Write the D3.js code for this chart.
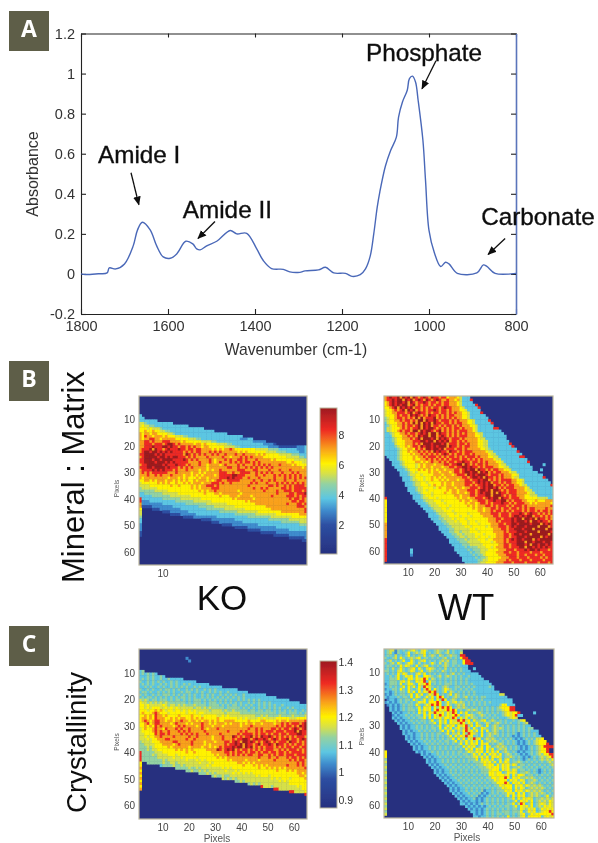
<!DOCTYPE html>
<html>
<head>
<meta charset="utf-8">
<script src="https://cdn.jsdelivr.net/npm/d3@7"></script>
<style>
  html, body { margin: 0; background: #fff; }
  text { font-family: "Liberation Sans", Arial, sans-serif; }
</style>
</head>
<body>
<svg id="chart" width="598" height="843"></svg>
<script>
// spectrum
const wavenumbers = [1800,1790,1760,1740,1735,1720,1700,1680,1670,1659,1641,1626,1611,1595,1580,1559,1543,1534,1526,1511,1488,1457,1442,1419,1396,1381,1362,1335,1320,1297,1285,1254,1238,1219,1192,1177,1158,1146,1135,1127,1119,1113,1100,1088,1075,1070,1061,1050,1045,1038,1031,1025,1014,1008,1000,988,973,962,954,935,890,875,867,848,800];
const absorbance = [0,-0.003,0.001,0.005,0.03,0.025,0.05,0.14,0.22,0.258,0.22,0.14,0.085,0.078,0.1,0.163,0.15,0.125,0.12,0.14,0.163,0.217,0.2,0.203,0.125,0.067,0.027,0.023,0.01,0.008,0.015,0.02,0.033,0.005,0.003,-0.012,-0.004,0.025,0.09,0.2,0.333,0.41,0.54,0.617,0.683,0.783,0.858,0.917,0.975,0.987,0.958,0.867,0.667,0.467,0.217,0.108,0.037,0.058,0.05,0.003,0.005,0.045,0.038,0.003,0.003];
const specXTicks = [1800,1600,1400,1200,1000,800];
const specYTicks = [-0.2,0,0.2,0.4,0.6,0.8,1,1.2];

// peak labels: text, label anchor, arrow start, arrow tip (wavenumber, absorbance)
const peakNames = ["Amide I","Amide II","Phosphate","Carbonate"];
const peakLabelAt = [[1761,0.556],[1566,0.281],[1145,1.064],[880,0.242]];
const peakArrowFrom = [[1685,0.505],[1492,0.262],[984,1.064],[825,0.177]];
const peakArrowTo = [[1667,0.346],[1531,0.177],[1016,0.924],[864,0.097]];

// maps: one char per pixel, colour level 0-9, trailing navy left out
const koMineral = ["","","","","","","",
"3",
"33",
"3333333",
"5543333333333",
"5655443333333333333",
"6665655543333333333333333",
"66766766554433333333333333333",
"7677677666655433333333333333333333",
"7687767776766655544333333333333333333333",
"76778877677777666665554433333333333333322233",
"7788787778887777676666665555443333333333333322222",
"77888788878998787777767767666655554433333333333322221",
"77888988899898878878787767766666655554433333333333222211111112223333",
"78889798878988898878878877776767677876666666655555444433333332223333",
"7899899898989888878787887778787877777767676666666555544443333322332333",
"88999989898888888798787878778787787778778777767676666655555444333333",
"78999998998989988878787777877777877677787878777766666666655555443333",
"88999899899998888987878777787677787877887877787777767666666655555444",
"88999989998989888887777877787678777878787887878777777777766766655555",
"78899999989888988878777877677776787777878777878787877787777676666655",
"88899899998988878787877777677777778877877878787878787777777777767666",
"78888989898887877787777677676778777777888777887777877787778777777767",
"78787888888777877777677676777778887787788887787878787778777878777777",
"77787787877787777677676767777678888899888777787787778787878787877777",
"76777777777677767676667677677778889898887787778777778777878787878777",
"66776767776776767676676777676788778888877777877877878777877787777877",
"56666667676766766767677767778887877877777778787778777878787878787878",
"55556666666676676666767677888787777777777787777777887877878788887878",
"45555556666666666666767677778887777777777777877878777778878788888878",
"44444455555666666666666767677877777777677777777787777877888788878788",
"33444444455555566666666667666776777777767777777777777877778878889887",
"33333444444455555555666666666667666777677776777777787777788878788788",
"83333333344444445555555566666666666676777777677777777777778788787888",
"82223333333333444444455555556666666666666767777777777777777887887878",
"72222222233333333344444444555555556666666666677777777777787778878788",
"71111222222223333333333444444555555556666666666667777777777778887888",
"60000111222222223333333333444444455555555666666666677777777777778788",
"50000000011122222223333333333334444444555555556666666667777777778788",
"50000000000011112222223333333333333334444444455555555666666666777788",
"40000000000000000111122222222233333333333344444444455555555666666666",
"30000000000000000000000011112222222223333333333333444444445555555666",
"30000000000000000000000000001112222222223333333333333334444444555555",
"20000000000000000000000000000000111122222222223333333333333333444444",
"20000000000000000000000000000000000001111122222222222333333333333344",
"20000000000000000000000000000000000000000011111222222222223333333333",
"10000000000000000000000000000000000000000000000111111222222222222233",
"10000000000000000000000000000000000000000000000000001111112222222222",
"00000000000000000000000000000000000000000000000000000000001111112222",
"00000000000000000000000000000000000000000000000000000000000000011111"];

const wtMineral = [
"789889798979878987988788677765333",
"7889899798978987987898778776753338",
"67898998979878898788787887776533330",
"678989899789787887878878877765333338",
"6678979898978878787887898877765333338",
"5667878979897878788987887877766533333",
"56677888789789887878878878787766533338",
"566678788798987879887878788777665333333",
"4566788787879797888978787878776653333333",
"45667787887879979889878887878777665333338",
"356667787879797989798878878788776653333338",
"3456677878878979897887878878787776653333330",
"35566678787889798998787878788787776533333388",
"355667878879979899878978787878887765333333333",
"3345667787887898979979887878787877765533333333",
"33356667787879899799789878787888777665333333333",
"33345667778789799989798987888787777765533333333",
"333456667778889989979898978878787777665533333333",
"3333566677787879998999897888788787776655333333338",
"33334566767887989989899979887878877766553333333338",
"333334566776878799899897888788787777766543333333333",
"3333345667677878787989887988787888777776553333333338",
"33333456667677878787878987878878878777776553333333333",
"033334566667677878887878788787878887877766553333333388",
"0033345666676677878787878788878878787877776553333333333",
"00033345666677676787787878878898878878787776653333333338",
"00033345666656767776777887889979878788787777655333333333000003",
"00003334566656767767776778878899898878788877665533333333300000",
"00000333456667676767677677788789899798878788776653333333300030",
"000000333456566667677677767887899899798978788777655333333330",
"0000003334556656666777677767888798989998788878777665333333333",
"00000003334566656676767677777788789989798878787776553333333338",
"000000033345566566766767677767788788989978787888877665333333333",
"0000000033345566566666767767777888789898978878788776653333333333",
"00000000333455666567667677677778878788989978878788776553333333338",
"000000000333455666656766777677677888789899897878887777653333333333",
"0000000003334556566666667677677788878998979987878887776553333333338",
"0000000000333456665666676677677678878989979798878887777655333333338",
"00000000000333456656666666677677788788899799987878877766555333333333",
"80000000000333455666566666667677677888789899798878887766666555533338",
"60000000000033345556665666666767767788878898899787888776667666777888",
"60000000000003334555666566666667677678878788898878788877676777776878",
"60000000000000333455566665666666767677788787888787888787777777778778",
"60000000000000033345556656666666667677677887878878878787887777877887",
"60000000000000003334555666566666666677677878878787888787887878878788",
"60000000000000000333455566656666566667777888788878889878988787878888",
"60000000000000000333345556666566656666777788788878998989978878787888",
"60000000000000000033344555656665666666667778878889899799897988787888",
"60000000000000000003334455565666566566667778788889899989799898878788",
"70000000000000000000333445555566566656666777887889989999899979898878",
"70000000000000000000033344555556656666656777888789899989999799978888",
"70000000000000000000033334455555566566666677788788999899979999799878",
"70000000000000000000003334455455566656666677778788899989999799998988",
"70000000000000000000000333445545555666566667778878998999799999979888",
"70000000000000000000000033344554555656665667778878899989999979899878",
"80000000000000000000000003334445455566656677778789899899979899999888",
"80000000000000000000000003333444555556666567778788899979989998998988",
"80000000000000000000000000333344455555666666778878899989799899898878",
"80000000000000000000000000033334344455566567778878889979989898988788",
"80000000003000000000000000033333434445556666777888788898998988878888",
"80000000003000000000000000003333343445566667778878878888788878888878",
"80000000002000000000000000000333334344566666777888878878887887888878",
"80000000000000000000000000000033333434456666677788878887888878788888",
"80000000000000000000000000000033333344556666777878887888788887888788",
"00000000000000000000000000000003333345566667778887888878888788878888"];

const koCryst = ["","","",
"0000000000000000002",
"00000000000000000002",
"","","",
"34",
"3434343",
"3334343343",
"34343433433433333",
"4334343434334343333333",
"343434334343434334343333333",
"33434334343343434343343433333333",
"43343433434434343343434334343433333333",
"344343343434343343443343433434343343333333",
"4343343434443434343434334343433434343433433333333",
"34344343434343434434343343434343434343434333333333333",
"5454344344434344343434443434343434343343434343433333333333",
"65545454545444444434344434344434343434343343434343433333333333",
"66565555565455454544454444344443434344343434334343434334333333333",
"665656665565656555555455454544444344444343434343434343433434333333",
"666566767656656656565655555455554544544444344344344343434343433434",
"676667876665666666566656655555555455555444444444444443444344434343",
"667676877676666766667666566666556565555555555445454444544445444454",
"677676877766767677667676766666766666665656555565655556666655566666",
"6787678877677677877677676776767667777666667666677666676776777777888",
"6678678877776787776767778776767776767776767767767777677878788878988",
"6676768787777678787777678777677767777776777877777777787878878798989",
"5676678776877787877877778767778777777777778778787778878788789878998",
"5666678787787778787877777877777777877778787778787888788878889798898",
"5566668788787777878787877787777877777787888878788787887887888998878",
"5565667787777877777877877777677787779878788978798898787878787888788",
"5556566777887777778778777777677787778788998789889878987889788789888",
"4555566677777887777787777677767778878987998987878987878887988787888",
"4455556667777678777787777676777778788989798878978898798878787887887",
"4445456666676777777677776776767878889899798978787888787878878878878",
"4445455666666676767676666677779878989787887878787888778787888787888",
"8444445556666666667667666666777778878788787887878878878878788887878",
"8444454555566656666666666666676777878787878877887787878878887888878",
"8444444555555655656666566666667676777777777777877787787778788787888",
"8444444445455555556555656566666666767777767777677777877777878788788",
"6004444445445545555555565556566666666677676767777777777777777878788",
"6000000034444544545555555565666666666666766676767677777778777878787",
"7000000000000044444544545555555565656666666666766767676767777777878",
"6000000000000000004454454545555556555656666666666666676667676777778",
"7000000000000000000000044454545555556565656566666666666666666776777",
"6000000000000000000000000000454454455555555556566656666666666677677",
"7000000000000000000000000000000054545455555555555556565666566666767",
"6000000000000000000000000000000000000445455555555555556565666666668",
"7000000000000000000000000000000000000000004545455555555555666666667",
"6000000000000000000000000000000000000000000000085554555555555656667",
"7000000000000000000000000000000000000000000000000000885555555556668",
"0000000000000000000000000000000000000000000000000000000000885555667",
"0000000000000000000000000000000000000000000000000000000000000000888"];

const wtCryst = [
"345524343456435643345443534334",
"3453243346345456343454345343350",
"3443534346343446345435434544388",
"43345364345456344343434534343688",
"345343463364345634343454534433688",
"4345364346643534346435354344336888",
"3443436465436345634343454343433300",
"34353464345636435654343534343433003",
"443435643465346345434354343434333",
"343436465343564634343434345343433333",
"3343463465636436654345345434343343333",
"33444634366465686354343434343434333333",
"3344435646436568364434343434343433333333",
"23444363466436568634343444343434343333333",
"334343463646364865434345433443434343333343",
"23344364364346358636434654343434343333333300",
"33234344364636465868434635434343434333333333",
"2323434434636463465863434635434343433333333355",
"32333434436365346463686343454345343434433333333",
"0233234344364346356364863454343434343433333333333",
"2323234343434656366686346456454343434343433333333",
"02323234344364346586863464345453434343433333466333",
"00323234344346365636468686345454343434343434566688",
"003232343444364656368656868634345454343434344566880",
"0003232334343646365865646586364634345434343434565668000003",
"00023233434344364636586465686345654345434343345656833",
"000323233434344636365646658636463544343434343334565",
"000032323343434434634646365586856364456345434343343456",
"0000032323343434344636463656586465364345434543434334345",
"00000032323343434343463465636568463654363454343434343433",
"000000323233434343443636463564585364365434545434343434344",
"00000003232334343434346364635468564636363454343434343434333",
"00000003233233434343443463546364865436345454343434323434343",
"000000003232334343434343463646585634363454343434323234343433",
"0000000032323343434343434463646365856345454343434323234343556",
"00000000032323343434343443463546464636345454343434323234345666",
"000000000032323343434343434346364656365634345434343232343456668",
"00000000000323233434343434344364656346365345454343432323434568888",
"000000000003232334343434343434364636563646345453434323234345668",
"600000000000323233434343434344346546563646463454343232334345668",
"600000000000003232334343434343443464636365646345434323234345466888",
"600000000000000323233434343434344456464636565344543432323434545688",
"400000000000000032323343434343434446365646346356343432343434545468",
"500000000000000032323343434343434344456564636465344543434343434545",
"400000000000000003232334343434343434446566364656465344343434343454",
"500000000000000000323233434343434343444565664656344543434343434345",
"400000000000000000032323343434343434344456663656465344343432343434",
"500000000000000000032323343434343434344466566346565344543432343434",
"400000000000000000003232334343434343434366566656364665344343434343",
"500000000000000000000323233434343434343446656686365644545434343434",
"400000000000000000000032323343434343434344656663656465344543434343",
"500000000000000000000003232334343434343434466686365646345434343434",
"400000000000000000000000323233434343434343446566636564654545434343",
"500000000000000000000000032323343434343434344656636465345454543434",
"400000000000000000000000032323343434342334344465636564654545434343",
"500000000000000000000000003232334343423234343446563646345454543434",
"400000000000000000000000000323233434232343434346364656345454346343",
"500000000000000000000000000032323342323434343434463646565344545453",
"400000000000000000000000000003232332323434343434346365646345454654",
"500000000000000000000000000003323232343434343434463586346345654654",
"400000000000000000000000000000032323232343434344346365646345465654",
"500000000000000000000000000000003232323434343434344365465634656566",
"400000000000000000000000000000000332323434343444344463465634566866",
"500000000000000000000000000000000032323434344344343456346566666686",
"000000000000000000000000000000000033233434343436343456366666356565"];

const levelColors = ["#27307f","#2d4fa2","#3f8ccd","#5cc6e2","#93d2a2","#d6e04a","#fff200","#f9a11b","#ee2a24","#9c1b1f"];
const barStops = [0,0.2,0.3,0.38,0.48,0.55,0.62,0.72,0.85,1];
const mineralBarTicks = [2,4,6,8];
const crystBarTicks = [0.9,1,1.1,1.2,1.3,1.4];
const pixelTicks = [10,20,30,40,50,60];

const svg = d3.select("#chart");
const defs = svg.append("defs");
defs.append("filter").attr("id","soft").append("feGaussianBlur").attr("stdDeviation",0.35);
defs.append("filter").attr("id","mapBlur").attr("x","-5%").attr("y","-5%").attr("width","110%").attr("height","110%")
  .append("feGaussianBlur").attr("stdDeviation",0.7);
defs.append("marker").attr("id","head").attr("viewBox","0 0 10 10").attr("refX",9).attr("refY",5)
  .attr("markerUnits","userSpaceOnUse").attr("markerWidth",9).attr("markerHeight",9).attr("orient","auto")
  .append("path").attr("d","M0,0.8L10,5L0,9.2Z").attr("fill","#111");

const level = d3.scaleLinear().domain(d3.range(10)).range(levelColors);

// colour bar gradient
const grad = defs.append("linearGradient").attr("id","jet").attr("x1",0).attr("y1",1).attr("x2",0).attr("y2",0);
grad.selectAll("stop").data(levelColors).join("stop")
  .attr("offset",(d,i)=>barStops[i]).attr("stop-color",d=>d);

// ---- panel A
const x = d3.scaleLinear().domain([1800,800]).range([81,516]);
const y = d3.scaleLinear().domain([-0.2,1.2]).range([314,33.5]);
const tickColor = "#333";

function styleAxis(g, font) {
  g.selectAll("path").attr("stroke","#222").attr("stroke-width",1.1);
  g.selectAll("line").attr("stroke","#222").attr("stroke-width",1.1);
  g.selectAll("text").attr("fill",tickColor).style("font-size",font+"px");
}

const specAxes = svg.append("g").attr("filter","url(#soft)");
specAxes.append("g").attr("transform","translate(0,314)")
  .call(d3.axisBottom(x).tickValues(specXTicks).tickFormat(d3.format("d")).tickSize(-5).tickPadding(7).tickSizeOuter(0))
  .call(styleAxis,14.5);
specAxes.append("g").attr("transform","translate(0,33.5)")
  .call(d3.axisTop(x).tickValues(specXTicks).tickFormat("").tickSize(-4).tickSizeOuter(0))
  .call(styleAxis,14.5);
specAxes.append("g").attr("transform","translate(81,0)")
  .call(d3.axisLeft(y).tickValues(specYTicks).tickFormat(d=>String(d)).tickSize(-5).tickPadding(6).tickSizeOuter(0))
  .call(styleAxis,14.5);
const rightAxis = specAxes.append("g").attr("transform","translate(516,0)")
  .call(d3.axisRight(y).tickValues(specYTicks).tickFormat("").tickSize(-5).tickSizeOuter(0))
  .call(styleAxis,14.5);
rightAxis.selectAll("path").attr("stroke","#5a74bb").attr("stroke-width",1.6);

specAxes.append("text").attr("x",296).attr("y",355).attr("text-anchor","middle")
  .attr("fill",tickColor).style("font-size","15.7px").text("Wavenumber (cm-1)");
specAxes.append("text").attr("transform","translate(38,174) rotate(-90)").attr("text-anchor","middle")
  .attr("fill",tickColor).style("font-size","16px").text("Absorbance");

const line = d3.line().curve(d3.curveCatmullRom).x((d,i)=>x(wavenumbers[i])).y(d=>y(d));
svg.append("path").datum(absorbance).attr("d",line).attr("fill","none")
  .attr("stroke","#4a68b8").attr("stroke-width",1.4).attr("filter","url(#soft)");

const peaks = svg.append("g").attr("filter","url(#soft)");
peaks.selectAll("text").data(peakNames).join("text")
  .attr("x",(d,i)=>x(peakLabelAt[i][0])).attr("y",(d,i)=>y(peakLabelAt[i][1]))
  .attr("fill","#111").attr("stroke","#111").attr("stroke-width",0.35)
  .style("font-size","24.3px").text(d=>d);
peaks.selectAll("line").data(peakNames).join("line")
  .attr("x1",(d,i)=>x(peakArrowFrom[i][0])).attr("y1",(d,i)=>y(peakArrowFrom[i][1]))
  .attr("x2",(d,i)=>x(peakArrowTo[i][0])).attr("y2",(d,i)=>y(peakArrowTo[i][1]))
  .attr("stroke","#111").attr("stroke-width",1.3).attr("marker-end","url(#head)");

// ---- badges
const badgeNames = ["A","B","C"];
const badgeTops = [11,361,626];
const badges = svg.append("g");
badges.selectAll("rect").data(badgeNames).join("rect")
  .attr("x",9).attr("y",(d,i)=>badgeTops[i]).attr("width",40).attr("height",40).attr("fill","#5e5e48");
badges.selectAll("text").data(badgeNames).join("text")
  .attr("x",29).attr("y",(d,i)=>badgeTops[i]+26).attr("text-anchor","middle")
  .attr("fill","#fff").style("font-family","'Open Sans'").style("font-weight",700).style("font-size","23px").text(d=>d);

// ---- maps
let clipId = 0;
function drawMap(rows, box, opt) {
  const cells = d3.range(65);
  const bx = d3.scaleBand().domain(cells).range([box.x0,box.x1]);
  const by = d3.scaleBand().domain(cells).range([box.y0,box.y1]);
  const px = d3.scaleLinear().domain([1,65]).range([box.x0,box.x1]);
  const py = d3.scaleLinear().domain([1,65]).range([box.y0,box.y1]);

  const id = "clip"+(clipId++);
  defs.append("clipPath").attr("id",id).append("rect")
    .attr("x",box.x0).attr("y",box.y0).attr("width",box.x1-box.x0).attr("height",box.y1-box.y0);

  const g = svg.append("g");
  g.append("rect").attr("x",box.x0).attr("y",box.y0).attr("width",box.x1-box.x0).attr("height",box.y1-box.y0)
    .attr("fill",levelColors[0]);

  const blocks = rows.flatMap((r,i)=>Array.from(r.padEnd(65,"0").slice(0,65),(c,j)=>({i,j,v:+c}))).filter(d=>d.v>0);
  g.append("g").attr("clip-path",`url(#${id})`).append("g").attr("filter","url(#mapBlur)")
    .selectAll("rect").data(blocks).join("rect")
    .attr("x",d=>bx(d.j)).attr("y",d=>by(d.i))
    .attr("width",bx.bandwidth()+0.4).attr("height",by.bandwidth()+0.4)
    .attr("fill",d=>level(d.v));

  g.append("rect").attr("x",box.x0).attr("y",box.y0).attr("width",box.x1-box.x0).attr("height",box.y1-box.y0)
    .attr("fill","none").attr("stroke","#b9b59c").attr("stroke-width",1.2);

  const ax = svg.append("g").attr("filter","url(#soft)");
  const left = ax.append("g").attr("transform",`translate(${box.x0},0)`)
    .call(d3.axisLeft(py).tickValues(pixelTicks).tickSize(0).tickPadding(4));
  left.select("path").remove();
  left.selectAll("text").attr("fill","#444").style("font-size","10px");

  const bottom = ax.append("g").attr("transform",`translate(0,${box.y1})`)
    .call(d3.axisBottom(px).tickValues(opt.xTicks).tickSize(0).tickPadding(5));
  bottom.select("path").remove();
  bottom.selectAll("text").attr("fill","#444").style("font-size","10px");

  ax.append("text").attr("transform",`translate(${box.x0-20},${(box.y0+box.y1)/2+(opt.sideDown||0)}) rotate(-90)`)
    .attr("text-anchor","middle").attr("fill","#555").style("font-size","6.5px").text("Pixels");
  if (opt.xLabel) {
    ax.append("text").attr("x",(box.x0+box.x1)/2-(opt.xShift||0)).attr("y",box.y1+23).attr("text-anchor","middle")
      .attr("fill","#555").style("font-size","10px").text("Pixels");
  }
}

function drawBar(domain, rangeY, ticks, fmt) {
  const s = d3.scaleLinear().domain(domain).range(rangeY);
  const g = svg.append("g").attr("filter","url(#soft)");
  g.append("rect").attr("x",320).attr("y",rangeY[1]).attr("width",17).attr("height",rangeY[0]-rangeY[1])
    .attr("fill","url(#jet)").attr("stroke","#b9b59c").attr("stroke-width",1);
  const a = g.append("g").attr("transform","translate(337,0)")
    .call(d3.axisRight(s).tickValues(ticks).tickFormat(fmt).tickSize(0).tickPadding(1.5));
  a.select("path").remove();
  a.selectAll("text").attr("fill","#333").style("font-size","10.5px");
}

drawMap(koMineral,{x0:139,x1:307,y0:396,y1:565},{xTicks:[10],sideDown:8});
drawMap(wtMineral,{x0:384,x1:553,y0:396,y1:564},{xTicks:pixelTicks,sideDown:3});
drawMap(koCryst,{x0:139,x1:307,y0:649,y1:819},{xTicks:pixelTicks,xLabel:true,xShift:6,sideDown:8});
drawMap(wtCryst,{x0:384,x1:554,y0:649,y1:818},{xTicks:pixelTicks,xLabel:true,xShift:2,sideDown:3});

drawBar([0.1,9.8],[554,408],mineralBarTicks,d3.format("d"));
drawBar([0.87,1.405],[808,661],crystBarTicks,d=>String(d));

// ---- big captions
const caps = svg.append("g").attr("filter","url(#soft)").attr("fill","#111");
caps.append("text").attr("transform","translate(84,583) rotate(-90)").style("font-size","31px").text("Mineral : Matrix");
caps.append("text").attr("transform","translate(86,813) rotate(-90)").style("font-size","27.6px").text("Crystallinity");
caps.append("text").attr("x",222).attr("y",610).attr("text-anchor","middle").style("font-size","35px").text("KO");
caps.append("text").attr("x",466).attr("y",620).attr("text-anchor","middle").style("font-size","36.5px").text("WT");
</script>
</body>
</html>
